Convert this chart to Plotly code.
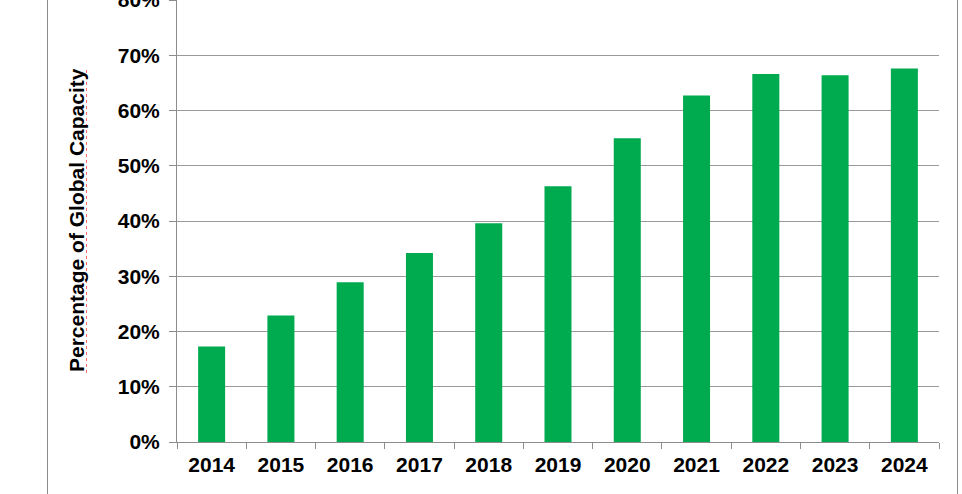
import plotly.graph_objects as go

years = ["2014", "2015", "2016", "2017", "2018", "2019", "2020", "2021", "2022", "2023", "2024"]
share = [0.173, 0.229, 0.289, 0.342, 0.396, 0.463, 0.550, 0.627, 0.666, 0.664, 0.676]
y_ticks = [0, 0.1, 0.2, 0.3, 0.4, 0.5, 0.6, 0.7, 0.8]
y_title = "Percentage of Global Capacity"

W, H = 962, 494
ML, MR, MT, MB = 177, 23, 0, 52
pw, ph = W - ML - MR, H - MT - MB

fig = go.Figure(go.Bar(x=years, y=share, marker=dict(color="#00AA4F", line=dict(width=0))))

FONT = "Arial, Liberation Sans, sans-serif"

fig.update_layout(
    width=W, height=H,
    margin=dict(l=ML, r=MR, t=MT, b=MB, pad=0, autoexpand=False),
    paper_bgcolor="white", plot_bgcolor="white",
    bargap=0.61, showlegend=False,
    font=dict(family=FONT, size=21, color="black"),
)
fig.update_xaxes(
    type="category", tickson="boundaries", ticks="outside", ticklen=6, tickcolor="#8c8c8c",
    showline=True, linecolor="#8c8c8c", linewidth=1, showgrid=False, automargin=False,
    tickfont=dict(family=FONT, size=21, color="black", weight="bold"),
    ticklabelstandoff=4,
)
fig.update_yaxes(
    range=[0, 0.8], tickvals=y_ticks, tickformat=".0%", ticks="outside", ticklen=7, tickcolor="#8c8c8c",
    showline=True, linecolor="#8c8c8c", linewidth=1, automargin=False,
    showgrid=True, gridcolor="#9a9a9a", gridwidth=1, zeroline=False,
    tickfont=dict(family=FONT, size=21, color="black", weight="bold"),
    ticklabelstandoff=5, ticklabeloverflow="allow",
)

fig.add_annotation(
    text="<b>" + y_title + "</b>", textangle=-90, showarrow=False,
    xref="paper", yref="paper", x=(76 - ML) / pw, y=(H - MB - 220) / ph,
    xanchor="center", yanchor="middle",
    font=dict(family=FONT, size=21, color="black"),
)

# spell-check squiggle under title
fig.add_shape(type="line", xref="paper", yref="paper",
              x0=(86.5 - ML) / pw, x1=(86.5 - ML) / pw,
              y0=(H - MB - 373) / ph, y1=(H - MB - 67) / ph,
              line=dict(color="#ff6a6a", width=1, dash="dot"))

# frame borders
for xp in (47.5, 957.5):
    fig.add_shape(type="line", xref="paper", yref="paper",
                  x0=(xp - ML) / pw, x1=(xp - ML) / pw, y0=-0.2, y1=1.1,
                  line=dict(color="#8c8c8c", width=1))

fig.write_html("out.html", config={"displayModeBar": False},
               post_script="document.body.style.margin='0';document.body.style.overflow='hidden';")
